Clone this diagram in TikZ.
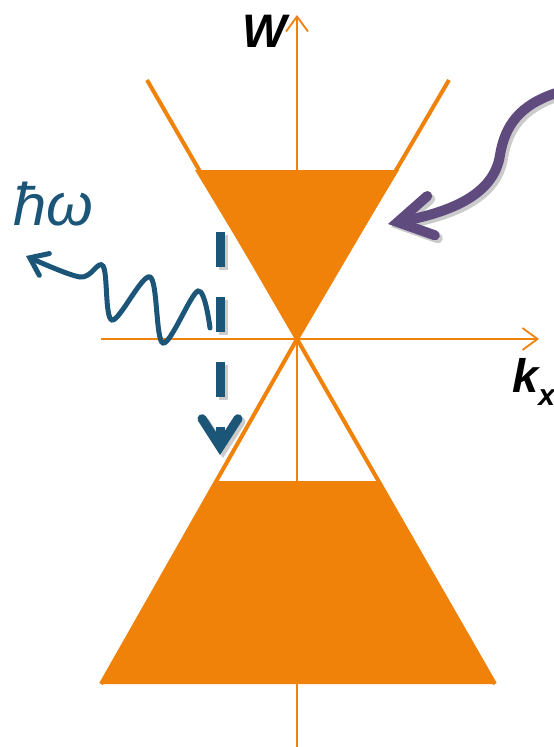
\documentclass[tikz,border=0pt]{standalone}
\usepackage{fontspec}
\setmainfont{Liberation Sans}
\usetikzlibrary{arrows.meta}
\definecolor{band}{HTML}{F0820A}
\definecolor{photon}{HTML}{1B5578}
\definecolor{pump}{HTML}{5F4B7D}
\definecolor{shade}{HTML}{8C8C8C}

\begin{document}
\begin{tikzpicture}[x=1pt,y=-1pt,
  axis/.style={draw=band, line width=1.8pt, -{Straight Barb[length=15pt,width=22pt]}},
  cone/.style={draw=band, line width=4pt},
  shadowed/.style={preaction={#1, draw=shade, opacity=0.45, transform canvas={shift={(3pt,-3pt)}}}},
  wave/.style={draw=photon, line width=5pt, line cap=round, -{Straight Barb[length=16pt,width=24pt,line cap=round,line join=miter]}},
  relax/.style={draw=photon, line width=9pt, dash pattern=on 35pt off 30pt, -{Straight Barb[length=28pt,width=36pt,line cap=round,line join=miter]}},
  pumpar/.style={draw=pump, line width=10pt, line cap=round, -{Straight Barb[length=34pt,width=40pt,line cap=round,line join=miter]}},
  lbl/.style={font=\bfseries\itshape\fontsize{47}{50}\selectfont, text=black, inner sep=0pt},
]
\useasboundingbox (0,0) rectangle (554,747);
\coordinate (apex) at (297,339);
\fill[band] (195,170) -- (399,170) -- (apex) -- cycle;
\fill[band] (216,481) -- (378,481) -- (495,684) -- (101,684) -- cycle;
\coordinate (wlo) at (297,747);
\coordinate (whi) at (297,15);
\coordinate (klo) at (101,339);
\coordinate (khi) at (539,339);
\draw[axis] (wlo) -- (whi);
\draw[axis] (klo) -- (khi);
\draw[cone] (147,80) -- (apex) -- (495,684);
\draw[cone] (449,80) -- (apex) -- (101,684);
\node[lbl, anchor=base west] (w) at (242,47) {W};
\node[lbl, anchor=base west] (k) at (512,392) {k\raisebox{-13pt}{\fontsize{30}{30}\selectfont x}};
\node[font=\itshape\fontsize{60}{64}\selectfont, text=photon, inner sep=0pt, anchor=base west] (hw) at (13,225) {ħω};
\coordinate (emit) at (210,328);
\coordinate (out) at (26,256);
\draw[wave] plot[smooth, tension=0.55] coordinates {(emit) (198,291) (163,343) (150,277) (112,320) (103,266) (80,277) (out)};
\coordinate (r1) at (220,232);
\coordinate (r2) at (220,455);
\draw[relax, shadowed=relax] (r1) -- (r2);
\coordinate (p1) at (556,93);
\coordinate (p2) at (388,224);
\draw[pumpar, shadowed=pumpar] (p1) .. controls (520,105) and (505,125) .. (500,155) .. controls (494,195) and (450,212) .. (p2);
\end{tikzpicture}
\end{document}
